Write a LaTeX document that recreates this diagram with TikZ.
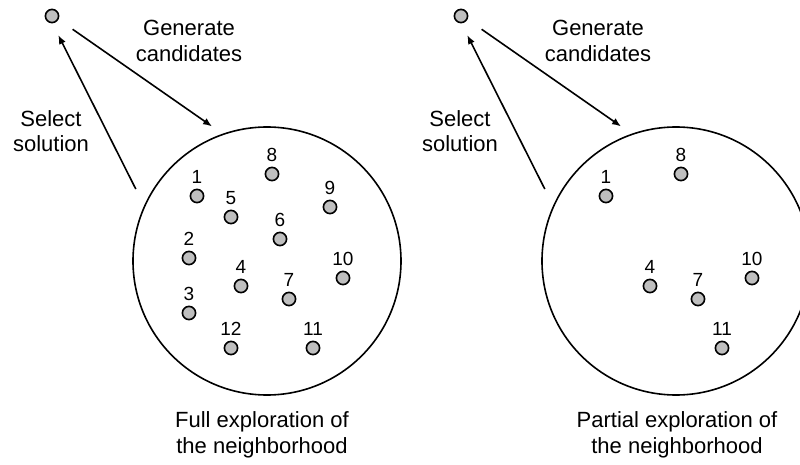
\documentclass[tikz,border=0pt]{standalone}
\usepackage{fontspec}
\setmainfont{Liberation Sans}
\usetikzlibrary{arrows.meta}
\begin{document}
\begin{tikzpicture}[x=0.5pt, y=-0.5pt, line width=0.8pt, >={Latex[length=4.5pt,width=3.6pt]},
  font=\fontsize{11}{12.8}\selectfont,
  sol/.style={circle, draw, fill=black!25, minimum size=6.6pt, inner sep=0pt, outer sep=0pt},
  nbh/.style={circle, draw, minimum size=134pt, inner sep=0pt, outer sep=0pt},
  num/.style={label={[inner sep=0pt, label distance=2.7pt, font=\fontsize{9.5}{11}\selectfont]above:#1}}]
  \useasboundingbox (0,0) rectangle (800,465);
  % full exploration
  \node[sol] (curL) at (52,16) {};
  \node[nbh] (nbhL) at (267,261) {};
  \node[sol, num=1] (L1) at (197,196) {};
  \node[sol, num=2] (L2) at (189,258) {};
  \node[sol, num=3] (L3) at (189,313) {};
  \node[sol, num=4] (L4) at (241,286) {};
  \node[sol, num=5] (L5) at (231,217) {};
  \node[sol, num=6] (L6) at (280,239) {};
  \node[sol, num=7] (L7) at (289,299) {};
  \node[sol, num=8] (L8) at (272,174) {};
  \node[sol, num=9] (L9) at (330,207) {};
  \node[sol, num=10] (L10) at (343,278) {};
  \node[sol, num=11] (L11) at (313,348) {};
  \node[sol, num=12] (L12) at (231,348) {};
  \draw[->, shorten <=9pt, shorten >=6.9pt] (curL.-27) -- (nbhL.109.5);
  \draw[->, shorten <=9.75pt, shorten >=7pt] (nbhL.156.3) -- (curL.south);
  \node[align=center] (genL) at (189,41) {Generate\\candidates};
  \node[align=center] (selL) at (51,131) {Select\\solution};
  \node[align=center] (capL) at (262,435) {Full exploration of\\the neighborhood};
  % partial exploration
  \node[sol] (curR) at (461,16) {};
  \node[nbh] (nbhR) at (676,261) {};
  \node[sol, num=1] (R1) at (606,196) {};
  \node[sol, num=4] (R4) at (650,286) {};
  \node[sol, num=7] (R7) at (698,299) {};
  \node[sol, num=8] (R8) at (681,174) {};
  \node[sol, num=10] (R10) at (752,278) {};
  \node[sol, num=11] (R11) at (722,348) {};
  \draw[->, shorten <=9pt, shorten >=6.9pt] (curR.-27) -- (nbhR.109.5);
  \draw[->, shorten <=9.75pt, shorten >=7pt] (nbhR.156.3) -- (curR.south);
  \node[align=center] (genR) at (598,41) {Generate\\candidates};
  \node[align=center] (selR) at (460,131) {Select\\solution};
  \node[align=center] (capR) at (677,435) {Partial exploration of\\the neighborhood};
\end{tikzpicture}
\end{document}
